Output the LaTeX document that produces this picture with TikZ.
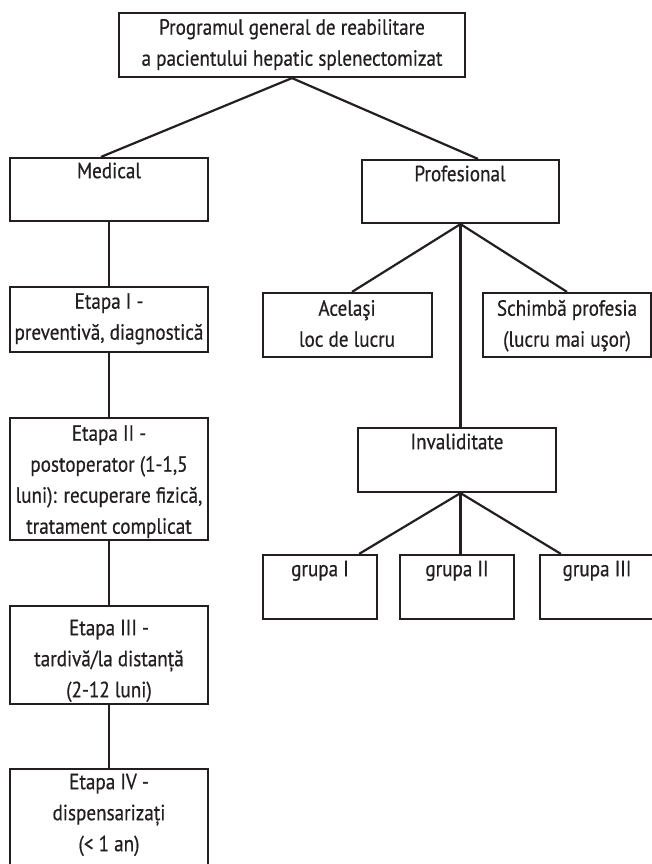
\documentclass[tikz,border=0pt]{standalone}
\usepackage{fontspec}
\setmainfont[FakeStretch=0.87,FakeBold=0.5]{PT Sans}
\definecolor{ink}{HTML}{231F20}
\begin{document}
\begin{tikzpicture}[x=1pt,y=-1pt,
  box/.style={draw=ink, line width=2.2pt, inner sep=0pt, rectangle},
  txt/.style={text=ink, align=center, font=\fontsize{22}{31}\selectfont, inner sep=0pt},
  link/.style={draw=ink, line width=2.2pt}]
\useasboundingbox (0,0) rectangle (652,864);
% boxes
\node[box, minimum width=346pt, minimum height=64pt] (top) at (292,45) {};
\node[box, minimum width=198pt, minimum height=63pt] (med) at (109,189.5) {};
\node[box, minimum width=197pt, minimum height=63pt] (prof) at (460.5,191.5) {};
\node[box, minimum width=198pt, minimum height=65pt] (e1) at (109,319.5) {};
\node[box, minimum width=198pt, minimum height=122pt] (e2) at (109,479) {};
\node[box, minimum width=198pt, minimum height=98pt] (e3) at (109,655) {};
\node[box, minimum width=198pt, minimum height=99pt] (e4) at (109,818.5) {};
\node[box, minimum width=169pt, minimum height=64pt] (acel) at (347.5,325) {};
\node[box, minimum width=168pt, minimum height=64pt] (schimb) at (567,325) {};
\node[box, minimum width=198pt, minimum height=64pt] (inv) at (457,460) {};
\node[box, minimum width=114pt, minimum height=64pt] (g1) at (320,587) {};
\node[box, minimum width=114pt, minimum height=64pt] (g2) at (457,587) {};
\node[box, minimum width=116pt, minimum height=64pt] (g3) at (598,587) {};
% texts
\node[txt] (ttop) at (292,44) {\strut Programul general de reabilitare\\ \strut a pacientului hepatic splenectomizat};
\node[txt] (tmed) at (109,172) {\strut Medical};
\node[txt] (tprof) at (460,175) {\strut Profesional};
\node[txt] (te1) at (109,318) {\strut Etapa I -\\ \strut preventivă, diagnostică};
\node[txt] (te2) at (109,481) {\strut Etapa II -\\ \strut postoperator (1-1,5\\ \strut luni): recuperare fizică,\\ \strut tratament complicat};
\node[txt] (te3) at (109,660) {\strut Etapa III -\\ \strut tardivă/la distanță\\ \strut (2-12 luni)};
\node[txt] (te4) at (109,814) {\strut Etapa IV -\\ \strut dispensarizați\\ \strut (< 1 an)};
\node[txt] (tacel) at (347,325) {\strut Acelaşi\\ \strut loc de lucru};
\node[txt] (tschimb) at (567,325) {\strut Schimbă profesia\\ \strut (lucru mai uşor)};
\node[txt] (tinv) at (457,443) {\strut Invaliditate};
\node[txt] (tg1) at (320,570) {\strut grupa I};
\node[txt] (tg2) at (457,570) {\strut grupa II};
\node[txt] (tg3) at (597,570) {\strut grupa III};
% connectors
\draw[link] (top.south) -- ([xshift=-8pt]med.north);
\draw[link] (top.south) -- ([xshift=17.5pt]prof.north);
\draw[link] (med.south) -- (e1.north);
\draw[link] (e1.south) -- (e2.north);
\draw[link] (e2.south) -- (e3.north);
\draw[link] (e3.south) -- (e4.north);
\draw[link] (prof.south) -- ([xshift=4.5pt]acel.north);
\draw[link] (prof.south) -- (schimb.north);
\draw[link] (prof.south) -- (prof.south |- inv.north);
\coordinate (ib) at (inv.south -| prof.south);
\draw[link] (ib) -- ([xshift=-19pt]g1.north east);
\draw[link] (ib) -- (ib |- g2.north);
\draw[link] (ib) -- ([xshift=22pt]g3.north west);
\end{tikzpicture}
\end{document}
